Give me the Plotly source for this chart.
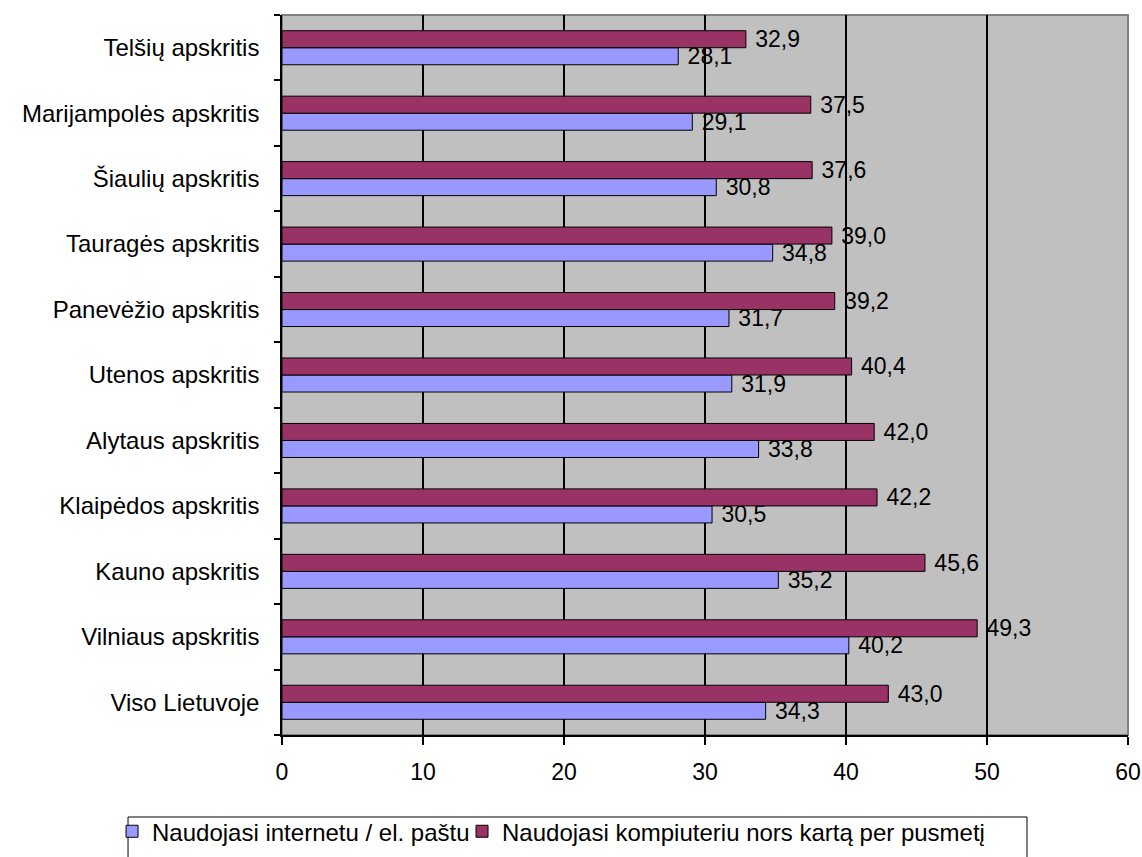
import plotly.graph_objects as go

# Regions listed bottom-to-top (Plotly draws horizontal categories upward)
regions = [
    "Viso Lietuvoje",
    "Vilniaus apskritis",
    "Kauno apskritis",
    "Klaipėdos apskritis",
    "Alytaus apskritis",
    "Utenos apskritis",
    "Panevėžio apskritis",
    "Tauragės apskritis",
    "Šiaulių apskritis",
    "Marijampolės apskritis",
    "Telšių apskritis",
]
internet_email = [34.3, 40.2, 35.2, 30.5, 33.8, 31.9, 31.7, 34.8, 30.8, 29.1, 28.1]
computer_half_year = [43.0, 49.3, 45.6, 42.2, 42.0, 40.4, 39.2, 39.0, 37.6, 37.5, 32.9]
series_names = [
    "Naudojasi internetu / el. paštu",
    "Naudojasi kompiuteriu nors kartą per pusmetį",
]
x_ticks = [0, 10, 20, 30, 40, 50, 60]

FONT = "Liberation Sans, Arial, sans-serif"
TEXT_SIZE = 24
NUM_SIZE = 23

fig = go.Figure()
fig.add_trace(go.Bar(
    y=regions, x=internet_email, name=series_names[0], orientation="h",
    marker=dict(color="#9999FF", line=dict(color="black", width=1)),
    texttemplate="\u00a0%{x:.1f}", textposition="outside", constraintext="none",
    textfont=dict(family=FONT, size=NUM_SIZE, color="black"), cliponaxis=False,
    legend="legend",
))
fig.add_trace(go.Bar(
    y=regions, x=computer_half_year, name=series_names[1], orientation="h",
    marker=dict(color="#993366", line=dict(color="black", width=1)),
    texttemplate="\u00a0%{x:.1f}", textposition="outside", constraintext="none",
    textfont=dict(family=FONT, size=NUM_SIZE, color="black"), cliponaxis=False,
    legend="legend2",
))

# gray frame around the plotting area
fig.add_shape(type="rect", xref="paper", yref="paper", x0=0, x1=1, y0=0, y1=1,
              line=dict(color="#808080", width=2), layer="below")
# shared frame around both legend entries
fig.add_shape(type="rect", xref="paper", yref="paper",
              x0=-0.182, x1=0.8806, y0=-0.19, y1=-0.1139,
              line=dict(color="black", width=1), fillcolor="rgba(0,0,0,0)")

legend_common = dict(
    orientation="h", xanchor="left", yanchor="top",
    borderwidth=0, bgcolor="rgba(0,0,0,0)",
    font=dict(family=FONT, size=TEXT_SIZE, color="black"),
    itemwidth=30,
)

fig.update_layout(
    width=1142, height=857,
    margin=dict(l=282, r=14, t=15, b=122, autoexpand=False),
    barmode="group", bargap=0.48, bargroupgap=0,
    plot_bgcolor="#C0C0C0", paper_bgcolor="white",
    separators=",.",
    font=dict(family=FONT, size=TEXT_SIZE, color="black"),
    showlegend=True,
    legend=dict(x=-0.2009, y=-0.103, **legend_common),
    legend2=dict(x=0.2128, y=-0.103, **legend_common),
)
fig.update_xaxes(
    range=[0, 60], tickvals=x_ticks, showgrid=True, gridcolor="black", gridwidth=1.5,
    showline=True, linecolor="black", linewidth=1.5, zeroline=False,
    ticks="outside", ticklen=8, tickcolor="black", tickwidth=1.5,
    ticklabelstandoff=8, tickfont=dict(size=NUM_SIZE),
)
fig.update_yaxes(
    showgrid=False, showline=True, linecolor="black", linewidth=1.5,
    ticks="outside", ticklen=6, tickcolor="black", tickwidth=1.5,
    tickson="boundaries", ticklabelstandoff=16, tickfont=dict(size=TEXT_SIZE),
)

fig.write_html("out.html")
